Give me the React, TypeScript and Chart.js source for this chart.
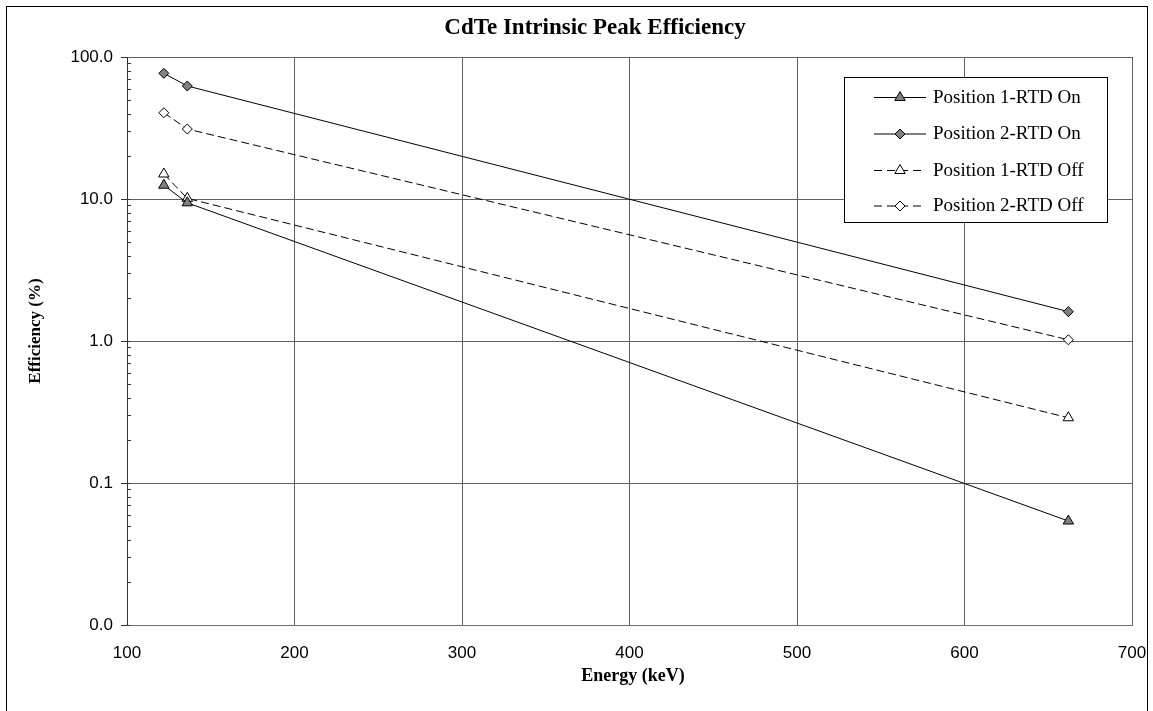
import React, { useEffect, useRef } from "react";
import { Chart, registerables } from "chart.js";

Chart.register(...registerables);

const energies = [122, 136, 662];
const pos1On = [12.5, 9.4, 0.054];
const pos2On = [76.7, 62.5, 1.61];
const pos1Off = [15.0, 10.1, 0.288];
const pos2Off = [40.5, 31.1, 1.02];
const seriesNames = ["Position 1-RTD On", "Position 2-RTD On", "Position 1-RTD Off", "Position 2-RTD Off"];
const xTicks = [100, 200, 300, 400, 500, 600, 700];
const yMajorTicks = [0.01, 0.1, 1, 10, 100];
const chartTitle = "CdTe Intrinsic Peak Efficiency";
const xTitle = "Energy (keV)";
const yTitle = "Efficiency (%)";

const isMajor = (v: number) => {
  const l = Math.log10(v);
  return Math.abs(l - Math.round(l)) < 1e-6;
};

const styles = [
  { style: "triangle", fill: "#808080", dash: [] as number[], radius: 6 },
  { style: "rectRot", fill: "#808080", dash: [] as number[], radius: 5 },
  { style: "triangle", fill: "#ffffff", dash: [8, 4], radius: 6 },
  { style: "rectRot", fill: "#ffffff", dash: [8, 4], radius: 5 },
];

const drawMarker = (ctx: CanvasRenderingContext2D, style: string, x: number, y: number, r: number, fill: string) => {
  ctx.save();
  ctx.setLineDash([]);
  ctx.beginPath();
  if (style === "triangle") {
    let a = 0;
    ctx.moveTo(x + Math.sin(a) * r, y - Math.cos(a) * r);
    a += (2 * Math.PI) / 3;
    ctx.lineTo(x + Math.sin(a) * r, y - Math.cos(a) * r);
    a += (2 * Math.PI) / 3;
    ctx.lineTo(x + Math.sin(a) * r, y - Math.cos(a) * r);
  } else {
    ctx.moveTo(x - r, y);
    ctx.lineTo(x, y - r);
    ctx.lineTo(x + r, y);
    ctx.lineTo(x, y + r);
  }
  ctx.closePath();
  ctx.fillStyle = fill;
  ctx.fill();
  ctx.strokeStyle = "#000";
  ctx.lineWidth = 1;
  ctx.stroke();
  ctx.restore();
};

const decorPlugin = {
  id: "decor",
  afterDraw(chart: any) {
    const { ctx, chartArea, scales } = chart;
    const { left, top, bottom } = chartArea;
    const y = scales.y;
    ctx.save();
    // outer border
    ctx.strokeStyle = "#000";
    ctx.lineWidth = 1;
    ctx.strokeRect(6.5, 6.5, 1141, 720);

    // inward ticks on y axis
    ctx.strokeStyle = "#333";
    for (let e = -2; e <= 1; e++) {
      for (let k = 1; k <= 9; k++) {
        const v = k * Math.pow(10, e);
        const py = Math.round(y.getPixelForValue(v)) + 0.5;
        ctx.beginPath();
        ctx.moveTo(left, py);
        ctx.lineTo(left + (k === 1 ? 3 : 4), py);
        ctx.stroke();
      }
    }

    // title
    ctx.fillStyle = "#000";
    ctx.textAlign = "center";
    ctx.textBaseline = "middle";
    ctx.font = "bold 23px 'Liberation Serif', 'Times New Roman', serif";
    ctx.fillText(chartTitle, 595, 28);

    // x axis title
    ctx.font = "bold 18px 'Liberation Serif', 'Times New Roman', serif";
    ctx.fillText(xTitle, 633, 676);

    // y axis title
    ctx.save();
    ctx.translate(36, (top + bottom) / 2 - 10);
    ctx.rotate(-Math.PI / 2);
    ctx.font = "bold 17px 'Liberation Serif', 'Times New Roman', serif";
    ctx.fillText(yTitle, 0, 0);
    ctx.restore();

    // legend
    const bx = 844.5, by = 77.5, bw = 263, bh = 145;
    ctx.fillStyle = "#fff";
    ctx.fillRect(bx, by, bw, bh);
    ctx.strokeStyle = "#000";
    ctx.lineWidth = 1;
    ctx.strokeRect(bx, by, bw, bh);
    const rowsY = [97, 133.5, 170, 205.5];
    ctx.font = "19px 'Liberation Serif', 'Times New Roman', serif";
    ctx.textAlign = "left";
    ctx.textBaseline = "middle";
    seriesNames.forEach((name, i) => {
      const s = styles[i];
      const ry = rowsY[i];
      ctx.save();
      ctx.strokeStyle = "#000";
      ctx.lineWidth = 1;
      ctx.setLineDash(s.dash.length ? [8, 5] : []);
      ctx.beginPath();
      ctx.moveTo(874, ry + 0.5);
      ctx.lineTo(926, ry + 0.5);
      ctx.stroke();
      ctx.restore();
      drawMarker(ctx, s.style, 900, ry + 0.5, s.radius, s.fill);
      ctx.fillStyle = "#000";
      ctx.fillText(name, 933, ry + 1);
    });
    ctx.restore();
  },
};

export default function App() {
  const ref = useRef<HTMLCanvasElement | null>(null);
  useEffect(() => {
    document.body.style.margin = "0";
    const canvas = ref.current;
    if (!canvas) return;
    const seriesValues = [pos1On, pos2On, pos1Off, pos2Off];
    const chart = new Chart(canvas, {
      type: "line",
      data: {
        datasets: seriesNames.map((name, i) => ({
          label: name,
          data: energies.map((e, j) => ({ x: e, y: seriesValues[i][j] })),
          borderColor: "#000",
          borderWidth: 1,
          borderDash: styles[i].dash,
          backgroundColor: styles[i].fill,
          pointStyle: styles[i].style as any,
          pointRadius: styles[i].radius,
          pointBackgroundColor: styles[i].fill,
          pointBorderColor: "#000",
          pointBorderWidth: 1,
          tension: 0,
          fill: false,
        })),
      },
      options: {
        responsive: false,
        animation: false,
        events: [],
        layout: { padding: { left: 0, top: 57, right: 21, bottom: 0 } },
        plugins: {
          legend: { display: false },
          title: { display: false },
          tooltip: { enabled: false },
        },
        scales: {
          x: {
            type: "linear",
            min: 100,
            max: 700,
            afterBuildTicks: (s: any) => {
              s.ticks = xTicks.map((v) => ({ value: v }));
            },
            afterFit: (s: any) => {
              s.height = 86;
              s.paddingRight = 0;
              s.paddingLeft = 0;
            },
            ticks: {
              color: "#000",
              padding: 18,
              maxRotation: 0,
              font: { family: "'Liberation Sans', Arial, sans-serif", size: 17 },
            },
            grid: { color: "#606060", lineWidth: 1, drawTicks: false },
            border: { color: "#707070", width: 1 },
          },
          y: {
            type: "logarithmic",
            min: yMajorTicks[0],
            max: yMajorTicks[yMajorTicks.length - 1],
            afterFit: (s: any) => {
              s.width = 127;
              s.paddingTop = 0;
              s.paddingBottom = 0;
            },
            ticks: {
              autoSkip: false,
              color: "#000",
              padding: 8,
              font: { family: "'Liberation Sans', Arial, sans-serif", size: 17 },
              callback: (v: any) => (isMajor(Number(v)) ? Number(v).toFixed(1) : ""),
            },
            grid: {
              lineWidth: 1,
              tickLength: 6,
              color: (c: any) => (c.tick && isMajor(c.tick.value) ? "#606060" : "rgba(0,0,0,0)"),
              tickColor: (c: any) => (c.tick && isMajor(c.tick.value) ? "#333" : "rgba(0,0,0,0)"),
            },
            border: { color: "#333", width: 1 },
          },
        },
      },
      plugins: [decorPlugin],
    });
    return () => chart.destroy();
  }, []);
  return (
    <div style={{ position: "relative", width: 1153, height: 711, background: "#fff" }}>
      <canvas ref={ref} width={1153} height={711} style={{ display: "block" }} />
    </div>
  );
}
